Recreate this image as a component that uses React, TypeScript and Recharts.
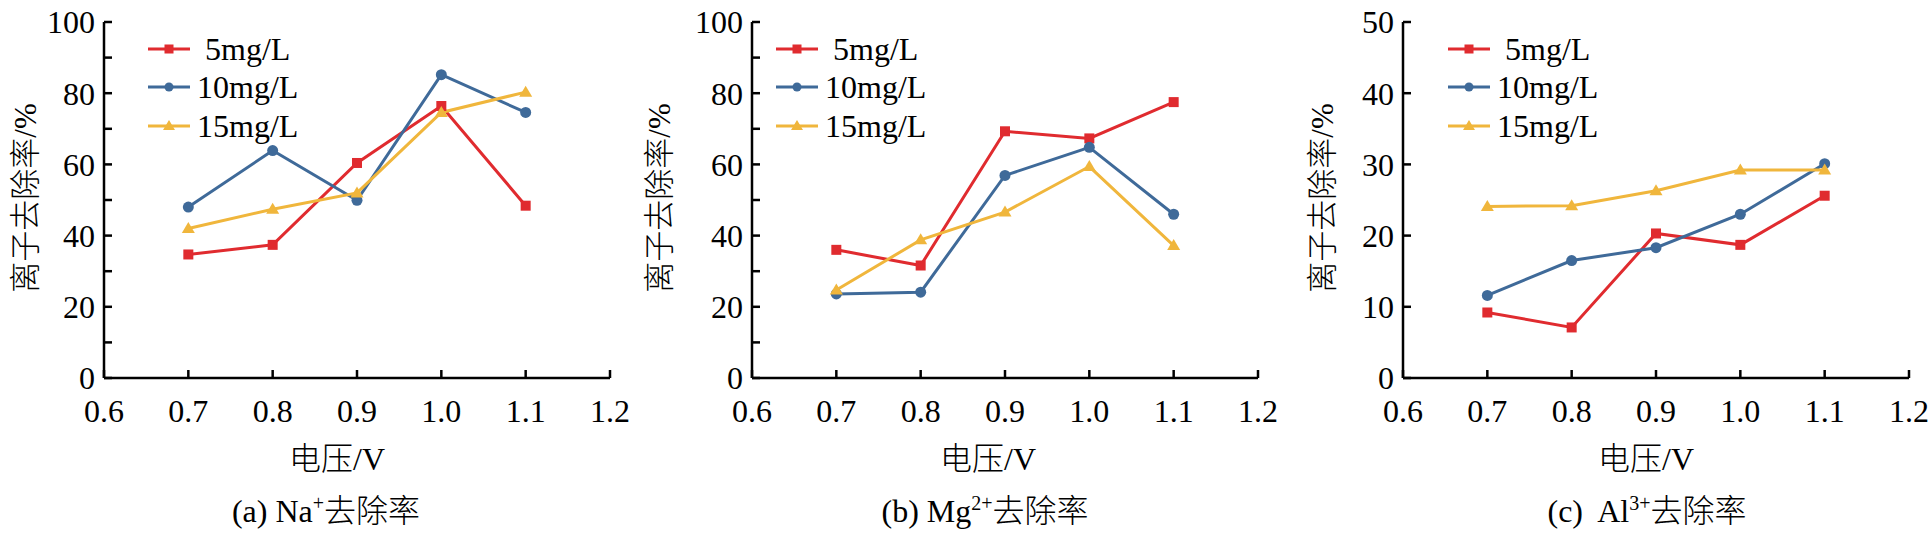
import { Line, LineChart, XAxis, YAxis } from "recharts"

const voltages = [0.7, 0.8, 0.9, 1.0, 1.1]
const xTicks = [0.6, 0.7, 0.8, 0.9, 1.0, 1.1, 1.2]
const seriesNames = ["5mg/L", "10mg/L", "15mg/L"]

const naRemoval5 = [34.7, 37.4, 60.4, 76.4, 48.4]
const naRemoval10 = [48.0, 63.9, 49.9, 85.2, 74.6]
const naRemoval15 = [42.0, 47.4, 52.0, 74.6, 80.3]

const mgRemoval5 = [36.0, 31.6, 69.3, 67.3, 77.5]
const mgRemoval10 = [23.6, 24.1, 56.9, 64.8, 46.0]
const mgRemoval15 = [24.7, 38.8, 46.6, 59.4, 37.2]

const alRemoval5 = [9.2, 7.1, 20.3, 18.7, 25.6]
const alRemoval10 = [11.6, 16.5, 18.3, 23.0, 30.1]
const alRemoval15 = [24.1, 24.2, 26.3, 29.2, 29.2]

const yTicks100 = [0, 10, 20, 30, 40, 50, 60, 70, 80, 90, 100]
const yTicks50 = [0, 10, 20, 30, 40, 50]

const RED = "#e02b2f"
const BLUE = "#3f6a99"
const YELLOW = "#f0b63c"
const SERIF = "'Liberation Serif', 'DejaVu Serif', serif"
const CJK = "'Noto Sans CJK SC', sans-serif"
const FONT_SIZE = 32
const LEFT_SPACE = 124

type Panel = {
  plotLeft: number
  letter: string
  ion: string
  charge: string
  s5: number[]
  s10: number[]
  s15: number[]
  yMax: number
  yTicks: number[]
  labelStep: number
  legendLeft: number
  yLabelX: number
  xLabelX: number
  captionX: number
}

const panels: Panel[] = [
  { plotLeft: 104, letter: "(a) ", ion: "Na", charge: "+", s5: naRemoval5, s10: naRemoval10, s15: naRemoval15, yMax: 100, yTicks: yTicks100, labelStep: 20, legendLeft: 44, yLabelX: 25, xLabelX: 337, captionX: 326 },
  { plotLeft: 752, letter: "(b) ", ion: "Mg", charge: "2+", s5: mgRemoval5, s10: mgRemoval10, s15: mgRemoval15, yMax: 100, yTicks: yTicks100, labelStep: 20, legendLeft: 24, yLabelX: 659, xLabelX: 988, captionX: 985 },
  { plotLeft: 1403, letter: "(c)  ", ion: "Al", charge: "3+", s5: alRemoval5, s10: alRemoval10, s15: alRemoval15, yMax: 50, yTicks: yTicks50, labelStep: 10, legendLeft: 45, yLabelX: 1322, xLabelX: 1646, captionX: 1647 },
]

function squareDot(props: any) {
  const { cx, cy, index } = props
  return <rect key={index} x={cx - 5} y={cy - 5} width={10} height={10} fill={RED} />
}

function circleDot(props: any) {
  const { cx, cy, index } = props
  return <circle key={index} cx={cx} cy={cy} r={5.5} fill={BLUE} />
}

function triangleDot(props: any) {
  const { cx, cy, index } = props
  return <path key={index} d={`M${cx},${cy - 6.5} L${cx + 6.5},${cy + 4.5} L${cx - 6.5},${cy + 4.5} Z`} fill={YELLOW} />
}

function XTick(props: any) {
  const { x, y, payload } = props
  return (
    <text x={x} y={y} dy="0.71em" textAnchor="middle" fill="#000" fontSize={FONT_SIZE} fontFamily={SERIF}>
      {Number(payload.value).toFixed(1)}
    </text>
  )
}

function makeYTick(step: number) {
  return function YTick(props: any) {
    const { x, y, payload } = props
    if (payload.value % step !== 0) return <g />
    return (
      <text x={x} y={y} dy="0.355em" textAnchor="end" fill="#000" fontSize={FONT_SIZE} fontFamily={SERIF}>
        {payload.value}
      </text>
    )
  }
}

function makeYLabel(cx: number) {
  return function YLabel() {
    const cy = 198
    return (
      <text
        x={cx}
        y={cy}
        dy="0.36em"
        textAnchor="middle"
        transform={`rotate(-90, ${cx}, ${cy})`}
        fill="#000"
        fontSize={31}
      >
        <tspan fontFamily={CJK} fontWeight={300}>离子去除率</tspan>
        <tspan fontFamily={SERIF}>/%</tspan>
      </text>
    )
  }
}

function LegendMarker({ kind }: { kind: number }) {
  const color = [RED, BLUE, YELLOW][kind]
  return (
    <svg width={42} height={16} style={{ display: "block" }}>
      <line x1={0} y1={8} x2={42} y2={8} stroke={color} strokeWidth={3} />
      {kind === 0 && <rect x={16.5} y={3.5} width={9} height={9} fill={color} />}
      {kind === 1 && <circle cx={21} cy={8} r={4.5} fill={color} />}
      {kind === 2 && <path d="M21,2 L27,12 L15,12 Z" fill={color} />}
    </svg>
  )
}

function ChartPanel({ p }: { p: Panel }) {
  const rows = voltages.map((v, i) => ({ v, s5: p.s5[i], s10: p.s10[i], s15: p.s15[i] }))
  const legendY = [49, 87, 126]
  const chartLeft = p.plotLeft - LEFT_SPACE
  return (
    <>
      <div style={{ position: "absolute", left: chartLeft, top: 0 }}>
        <LineChart width={650} height={534} data={rows} margin={{ top: 22, right: 20, bottom: 96, left: LEFT_SPACE - 60 }}>
          <XAxis
            dataKey="v"
            type="number"
            domain={[0.6, 1.2]}
            ticks={xTicks}
            height={60}
            axisLine={{ stroke: "#000", strokeWidth: 2.5 }}
            tickLine={{ stroke: "#000", strokeWidth: 2.5 }}
            tickSize={-8}
            tickMargin={29}
            tick={<XTick />}
            interval={0}
          />
          <YAxis
            type="number"
            domain={[0, p.yMax]}
            ticks={p.yTicks}
            width={60}
            axisLine={{ stroke: "#000", strokeWidth: 2.5 }}
            tickLine={{ stroke: "#000", strokeWidth: 2.5 }}
            tickSize={-8}
            tickMargin={17}
            tick={makeYTick(p.labelStep)}
            label={makeYLabel(p.yLabelX - chartLeft)}
            interval={0}
          />
          <Line dataKey="s5" stroke={RED} strokeWidth={3} dot={squareDot} isAnimationActive={false} />
          <Line dataKey="s10" stroke={BLUE} strokeWidth={3} dot={circleDot} isAnimationActive={false} />
          <Line dataKey="s15" stroke={YELLOW} strokeWidth={3} dot={triangleDot} isAnimationActive={false} />
        </LineChart>
      </div>
      {seriesNames.map((name, i) => (
        <div
          key={name}
          style={{
            position: "absolute",
            left: p.plotLeft + p.legendLeft,
            top: legendY[i],
            transform: "translateY(-50%)",
            display: "flex",
            alignItems: "center",
            gap: 7,
            fontFamily: SERIF,
            fontSize: FONT_SIZE,
            whiteSpace: "pre",
            lineHeight: 1,
          }}
        >
          <LegendMarker kind={i} />
          <span style={{ fontFamily: SERIF }}>{i === 0 ? " " + name : name}</span>
        </div>
      ))}
      <div
        style={{
          position: "absolute",
          left: p.xLabelX,
          top: 457,
          transform: "translate(-50%, -50%)",
          whiteSpace: "nowrap",
          fontSize: FONT_SIZE,
          lineHeight: 1,
        }}
      >
        <span style={{ fontFamily: CJK, fontWeight: 300 }}>电压</span>
        <span style={{ fontFamily: SERIF }}>/V</span>
      </div>
      <div
        style={{
          position: "absolute",
          left: p.captionX,
          top: 509,
          transform: "translate(-50%, -50%)",
          whiteSpace: "pre",
          fontSize: FONT_SIZE,
          lineHeight: 1,
        }}
      >
        <span style={{ fontFamily: SERIF }}>
          {p.letter}
          {p.ion}
          <span style={{ fontSize: 20, position: "relative", top: -12, lineHeight: 0 }}>{p.charge}</span>
        </span>
        <span style={{ fontFamily: CJK, fontWeight: 300 }}>去除率</span>
      </div>
    </>
  )
}

export default function App() {
  return (
    <div style={{ position: "absolute", left: 0, top: 0, width: 1930, height: 534, background: "#fff", overflow: "hidden", color: "#000" }}>
      {panels.map((p) => (
        <ChartPanel key={p.letter} p={p} />
      ))}
    </div>
  )
}
